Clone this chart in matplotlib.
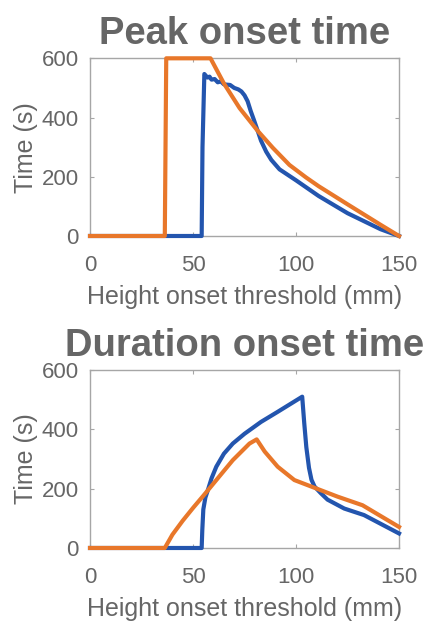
import matplotlib
matplotlib.use("Agg")
import matplotlib.pyplot as plt

# ---- data ----
peak_blue_x = [0, 54.2, 54.6, 55.5, 57, 58, 59, 60.5, 62, 63.5, 65, 68, 70, 72, 73.5, 75, 76.5, 78,
               79.5, 81.4, 83, 85.5, 88, 92, 100, 111, 125, 141, 150]
peak_blue_y = [0, 0, 300, 547, 535, 538, 528, 530, 519, 522, 512, 510, 500, 495, 488, 475, 455, 422,
               393, 355, 322, 285, 257, 225, 188, 135, 77, 23, 0]

peak_orange_x = [0, 36.3, 37.0, 58.5, 65, 72.6, 81.4, 88.7, 96.8, 104.8, 111, 125, 141, 150]
peak_orange_y = [0, 0, 600, 600, 515, 432, 355, 298, 240, 198, 168, 107, 38, 0]

dur_blue_x = [0, 54.2, 54.5, 55, 56, 57.2, 59, 61.3, 65, 69.3, 75, 83, 91.1, 103, 104, 105,
              106.3, 107.5, 109, 112, 115.3, 123.4, 133, 150]
dur_blue_y = [0, 0, 60, 130, 170, 195, 235, 274, 318, 352, 385, 425, 459, 510, 420, 340,
              270, 230, 207, 185, 163, 133, 111, 49]

dur_orange_x = [0, 36.3, 40, 45, 50, 55, 60, 65, 69.3, 77.4, 80.9, 84.8, 91.1, 99.2, 109.7, 120.2, 132.3, 150]
dur_orange_y = [0, 0, 45, 92, 135, 176, 218, 260, 296, 352, 366, 325, 274, 229, 201, 173, 144, 71]

titles = ["Peak onset time", "Duration onset time"]
xlabel = "Height onset threshold (mm)"
ylabel = "Time (s)"
xticks = [0, 50, 100, 150]
yticks = [0, 200, 400, 600]

# ---- style ----
BLUE = "#2355AE"
ORANGE = "#E8772A"
TXT = "#666666"
SPINE = "#a6a6a6"
plt.rcParams["font.family"] = ["Liberation Sans", "DejaVu Sans"]

fig = plt.figure(figsize=(4.24, 6.23), dpi=100)
ax1 = fig.add_axes([0.2123, 0.6212, 0.7288, 0.2852])
ax2 = fig.add_axes([0.2123, 0.1204, 0.7288, 0.2857])

series = [
    ((peak_blue_x, peak_blue_y), (peak_orange_x, peak_orange_y)),
    ((dur_blue_x, dur_blue_y), (dur_orange_x, dur_orange_y)),
]

for ax, title, (b, o) in zip([ax1, ax2], titles, series):
    ax.plot(b[0], b[1], color=BLUE, lw=3.0, clip_on=False, solid_joinstyle="round", zorder=3)
    ax.plot(o[0], o[1], color=ORANGE, lw=3.0, clip_on=False, solid_joinstyle="round", zorder=4)
    ax.set_xlim(0, 150)
    ax.set_ylim(0, 600)
    ax.set_xticks(xticks)
    ax.set_yticks(yticks)
    ax.tick_params(direction="in", length=3, width=0.8, color=SPINE, labelcolor=TXT,
                   labelsize=16, top=True, right=True)
    ax.tick_params(axis="x", pad=14)
    ax.tick_params(axis="y", pad=8)
    for s in ax.spines.values():
        s.set_color(SPINE)
        s.set_linewidth(1.0)
    ax.set_xlabel(xlabel, fontsize=18, color=TXT, labelpad=6)
    ax.set_ylabel(ylabel, fontsize=18, color=TXT, labelpad=3)
    ax.set_title(title, fontsize=27.5, fontweight="bold", color=TXT, pad=10)

fig.savefig("out.png", dpi=100)
